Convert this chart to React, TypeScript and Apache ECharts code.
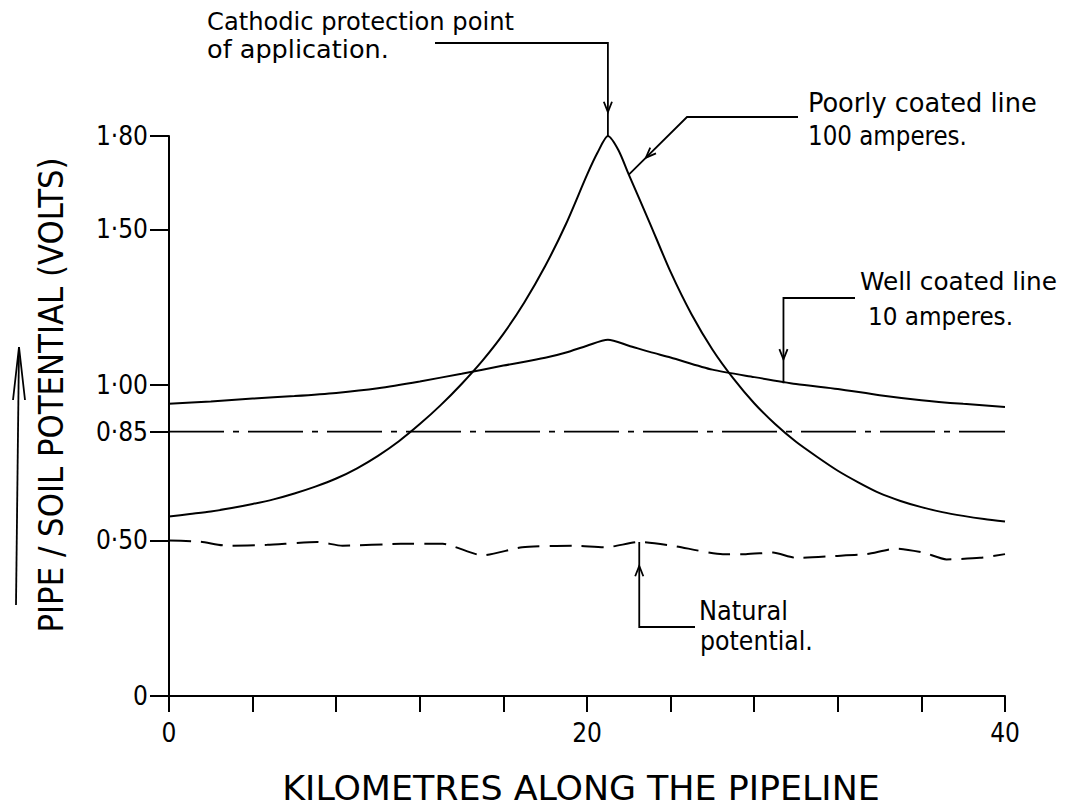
import React, { useEffect, useRef } from "react";
import * as echarts from "echarts";

const FONT = "'Liberation Sans Narrow', 'DejaVu Sans Condensed', 'Liberation Sans', sans-serif";

// X axis: kilometres along the pipeline
const xLabelValues = [0, 20, 40];
// Y axis: pipe / soil potential (volts)
const yTickValues = [0, 0.5, 0.85, 1.0, 1.5, 1.8];
const yTickLabels = ["0", "0·50", "0·85", "1·00", "1·50", "1·80"];

// Poorly coated line, 100 amperes
const poorlyKm = [0, 1, 2, 3, 4, 5, 6, 7, 8, 9, 10, 11, 12, 13, 14, 15, 16, 17, 18, 19, 20, 20.5, 21, 21.5, 22, 23, 24, 25, 26, 27, 28, 29, 30, 31, 32, 33, 34, 35, 36, 37, 38, 39, 40];
const poorlyV = [0.577, 0.585, 0.593, 0.604, 0.617, 0.632, 0.651, 0.673, 0.699, 0.732, 0.772, 0.819, 0.874, 0.935, 1.003, 1.078, 1.164, 1.265, 1.382, 1.518, 1.675, 1.746, 1.8, 1.755, 1.676, 1.521, 1.363, 1.227, 1.114, 1.021, 0.941, 0.874, 0.817, 0.769, 0.724, 0.686, 0.652, 0.627, 0.607, 0.591, 0.579, 0.569, 0.561];

// Well coated line, 10 amperes
const wellKm = [0, 2, 4, 6, 8, 10, 12, 14, 16, 18, 19, 20, 21, 22, 23, 24, 26, 28, 30, 32, 34, 36, 38, 40];
const wellV = [0.939, 0.947, 0.956, 0.964, 0.974, 0.989, 1.011, 1.036, 1.062, 1.087, 1.104, 1.126, 1.145, 1.126, 1.106, 1.088, 1.049, 1.025, 1.003, 0.987, 0.967, 0.951, 0.939, 0.929];

// Natural potential
const naturalKm = [0, 1.5, 2.8, 4.7, 7.1, 8.3, 11.1, 13.1, 15.0, 16.9, 19.3, 20.9, 22.5, 24.1, 26.5, 27.6, 28.9, 30.0, 31.8, 33.4, 34.8, 36.1, 37.2, 38.8, 40];
const naturalV = [0.5, 0.496, 0.483, 0.486, 0.495, 0.483, 0.489, 0.489, 0.452, 0.478, 0.483, 0.478, 0.495, 0.483, 0.456, 0.456, 0.461, 0.444, 0.45, 0.456, 0.474, 0.461, 0.439, 0.444, 0.456];

// Protection criterion 0.85 V
const criterionKm = [0, 40];
const criterionV = [0.85, 0.85];

const zip = (a: number[], b: number[]) => a.map((v, i) => [v, b[i]]);

let measureCtx: CanvasRenderingContext2D | null = null;
function measure(text: string, size: number): number {
  if (!measureCtx) measureCtx = document.createElement("canvas").getContext("2d");
  measureCtx!.font = `${size}px ${FONT}`;
  return measureCtx!.measureText(text).width;
}

function label(text: string, left: number, midY: number, size: number, width: number) {
  return {
    type: "text",
    x: left,
    y: midY,
    scaleX: width / measure(text, size),
    silent: true,
    style: { text, fontSize: size, fontFamily: FONT, fill: "#000", align: "left", verticalAlign: "middle" },
  };
}

function line(points: number[][]) {
  return {
    type: "polyline",
    silent: true,
    shape: { points },
    style: { stroke: "#000", lineWidth: 1.8, fill: null },
  };
}

// chevron placed a little before the end point, pointing toward the end
function chevron(from: number[], to: number[], back = 24, len = 11, ang = 0.38) {
  const dx = to[0] - from[0];
  const dy = to[1] - from[1];
  const d = Math.hypot(dx, dy);
  const ux = dx / d;
  const uy = dy / d;
  const p = [to[0] - ux * back, to[1] - uy * back];
  const arm = (s: number) => {
    const c = Math.cos(s * ang);
    const si = Math.sin(s * ang);
    const rx = ux * c - uy * si;
    const ry = ux * si + uy * c;
    return [p[0] - rx * len, p[1] - ry * len];
  };
  return line([arm(1), p, arm(-1)]);
}

export default function App() {
  const ref = useRef<HTMLDivElement>(null);

  useEffect(() => {
    const el = ref.current!;
    const chart = echarts.init(el, null, { renderer: "svg" });
    const lineStyle = { color: "#000", width: 2 };
    chart.setOption({
      animation: false,
      backgroundColor: "#fff",
      grid: { left: 169, right: 67, top: 136, bottom: 113, containLabel: false },
      xAxis: {
        type: "value",
        min: 0,
        max: 40,
        interval: 4,
        axisLine: { show: true, lineStyle: { color: "#000", width: 2 } },
        axisTick: { show: true, length: 16, lineStyle: { color: "#000", width: 2 } },
        axisLabel: {
          color: "#000",
          fontFamily: FONT,
          fontSize: 26,
          margin: 24,
          formatter: (v: number) => (xLabelValues.includes(v) ? String(v) : ""),
        },
        splitLine: { show: false },
      },
      yAxis: {
        type: "value",
        min: 0,
        max: 1.8,
        axisLine: { show: true, onZero: false, lineStyle: { color: "#000", width: 2 } },
        axisTick: { show: true, length: 19, customValues: yTickValues, lineStyle: { color: "#000", width: 2 } },
        axisLabel: {
          customValues: yTickValues,
          color: "#000",
          fontFamily: FONT,
          fontSize: 26,
          margin: 21,
          formatter: (v: number) => {
            const i = yTickValues.findIndex((t) => Math.abs(t - v) < 1e-9);
            return i >= 0 ? yTickLabels[i] : "";
          },
        },
        splitLine: { show: false },
      },
      series: [
        {
          name: "Poorly coated line 100 amperes",
          type: "line",
          data: zip(poorlyKm, poorlyV),
          symbol: "none",
          smooth: 0.25,
          lineStyle,
        },
        {
          name: "Well coated line 10 amperes",
          type: "line",
          data: zip(wellKm, wellV),
          symbol: "none",
          smooth: 0.25,
          lineStyle,
        },
        {
          name: "Protection level 0.85 V",
          type: "line",
          data: zip(criterionKm, criterionV),
          symbol: "none",
          lineStyle: { color: "#000", width: 1.8, type: [55, 9, 6, 9] },
        },
        {
          name: "Natural potential",
          type: "line",
          data: zip(naturalKm, naturalV),
          symbol: "none",
          smooth: 0.2,
          lineStyle: { color: "#000", width: 2, type: [22, 10] },
        },
      ],
    });

    const px = (p: number[]) => chart.convertToPixel({ gridIndex: 0 }, p) as number[];
    const peakIdx = poorlyV.indexOf(Math.max(...poorlyV));
    const peak = px([poorlyKm[peakIdx], poorlyV[peakIdx]]);
    const poorlyTarget = px([poorlyKm[peakIdx + 2], poorlyV[peakIdx + 2]]);
    const wellTarget = px([29.4, 1.005]);
    const naturalTarget = px([naturalKm[12], naturalV[12]]);

    const cathodicCorner = [peak[0], 43];
    const poorlyCorner = [687, 117];
    const wellCorner = [wellTarget[0], 298];
    const naturalCorner = [naturalTarget[0], 627];

    const xTitle = "KILOMETRES ALONG THE PIPELINE";
    const yTitle = "PIPE / SOIL POTENTIAL (VOLTS)";

    const graphic: any[] = [
      // Annotation texts
      label("Cathodic protection point", 207, 21, 25, 307),
      label("of application.", 207, 49, 25, 182),
      label("Poorly coated line", 808, 103, 27, 229),
      label("100 amperes.", 808, 136, 27, 159),
      label("Well coated line", 860, 281, 25, 197),
      label("10 amperes.", 868, 316, 25, 145),
      label("Natural", 699, 610, 27, 89),
      label("potential.", 700, 640, 27, 113),
      // Axis titles
      {
        type: "text",
        x: 581,
        y: 788,
        scaleX: 598 / measure(xTitle, 34),
        silent: true,
        style: {
          text: xTitle,
          fontSize: 34,
          fontFamily: FONT,
          fill: "#000",
          align: "center",
          verticalAlign: "middle",
        },
      },
      {
        type: "text",
        x: 52,
        y: 395,
        rotation: Math.PI / 2,
        scaleX: 475 / measure(yTitle, 33),
        silent: true,
        style: {
          text: yTitle,
          fontSize: 33,
          fontFamily: FONT,
          fill: "#000",
          align: "center",
          verticalAlign: "middle",
        },
      },
      // Axis-title arrow
      line([[16, 605], [19, 347]]),
      line([[13, 400], [19, 347], [25, 400]]),
      // Leaders
      line([[435, 43], cathodicCorner, peak]),
      chevron(cathodicCorner, peak),
      line([[798, 117], poorlyCorner, poorlyTarget]),
      chevron(poorlyCorner, poorlyTarget),
      line([[855, 298], wellCorner, wellTarget]),
      chevron(wellCorner, wellTarget),
      line([[695, 627], naturalCorner, naturalTarget]),
      chevron(naturalCorner, naturalTarget),
    ];
    chart.setOption({ graphic });

    return () => chart.dispose();
  }, []);

  return (
    <div
      ref={ref}
      style={{ position: "absolute", left: 0, top: 0, width: 1072, height: 809, background: "#fff" }}
    />
  );
}
